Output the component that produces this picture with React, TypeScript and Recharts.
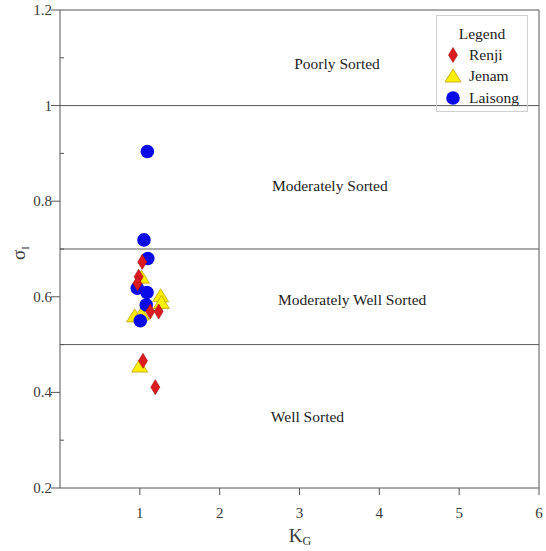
import React from 'react';
import { ScatterChart, Scatter, XAxis, YAxis, ReferenceLine, ReferenceDot } from 'recharts';

const renjiK = [1.03, 0.985, 0.97, 1.13, 1.236, 1.04, 1.194];
const renjiS = [0.673, 0.642, 0.628, 0.569, 0.569, 0.466, 0.411];
const jenamK = [1.02, 1.26, 1.27, 0.935, 1.02, 0.998];
const jenamS = [0.639, 0.6, 0.586, 0.558, 0.562, 0.453];
const laisongK = [1.094, 1.052, 1.1, 0.968, 1.09, 1.08, 1.006];
const laisongS = [0.904, 0.719, 0.68, 0.618, 0.609, 0.583, 0.55];

const xTicks = [1, 2, 3, 4, 5, 6];
const yTicks = [0.2, 0.3, 0.4, 0.5, 0.6, 0.7, 0.8, 0.9, 1.0, 1.1, 1.2];
const yLabeled = [0.2, 0.4, 0.6, 0.8, 1.0, 1.2];
const boundaries = [1.0, 0.7, 0.5];
const regions = [
  { label: 'Poorly Sorted', k: 3.47, s: 1.089 },
  { label: 'Moderately Sorted', k: 3.38, s: 0.832 },
  { label: 'Moderately Well Sorted', k: 3.66, s: 0.595 },
  { label: 'Well Sorted', k: 3.1, s: 0.35 },
];

const zip = (k: number[], s: number[]) => k.map((v, i) => ({ k: v, s: s[i] }));
const renji = zip(renjiK, renjiS);
const jenam = zip(jenamK, jenamS);
const laisong = zip(laisongK, laisongS);

const RED = '#dc1a1f';
const RED_S = '#9a1010';
const YEL = '#fff000';
const YEL_S = '#c0a000';
const BLUE = '#0a0ae6';
const AXIS = '#555';
const TXT = '#3a3a3a';
const FONT = '"Liberation Serif", "DejaVu Serif", serif';

const Diamond = (p: any) => {
  const { cx, cy } = p;
  return <polygon points={`${cx},${cy - 7.5} ${cx + 4.5},${cy} ${cx},${cy + 7.5} ${cx - 4.5},${cy}`} fill={RED} stroke={RED_S} strokeWidth={0.6} />;
};
const Triangle = (p: any) => {
  const { cx, cy } = p;
  return <polygon points={`${cx},${cy - 8} ${cx + 8},${cy + 5} ${cx - 8},${cy + 5}`} fill={YEL} stroke={YEL_S} strokeWidth={0.8} />;
};
const Circle = (p: any) => {
  const { cx, cy } = p;
  return <circle cx={cx} cy={cy} r={6.8} fill={BLUE} />;
};

const YTick = (p: any) => {
  const { x, y, payload } = p;
  const v = Math.round(payload.value * 10) / 10;
  const major = yLabeled.some((t) => Math.abs(t - v) < 1e-6);
  const ax = x + 9;
  if (!major) {
    return <line x1={ax} x2={ax + 4} y1={y} y2={y} stroke={AXIS} strokeWidth={1} />;
  }
  return (
    <g>
      <line x1={ax - 9} x2={ax} y1={y} y2={y} stroke={AXIS} strokeWidth={1} />
      <text x={ax - 8} y={y} dy={5} textAnchor="end" fontSize={15} fill={TXT} fontFamily={FONT}>{String(v)}</text>
    </g>
  );
};

const XTick = (p: any) => {
  const { x, y, payload } = p;
  return (
    <text x={x} y={y} dy={23} textAnchor="middle" fontSize={15} fill={TXT} fontFamily={FONT}>{String(payload.value)}</text>
  );
};

const legendItems = [
  { name: 'Renji', icon: 'd' },
  { name: 'Jenam', icon: 't' },
  { name: 'Laisong', icon: 'c' },
];

export default function App() {
  return (
    <div style={{ position: 'absolute', left: 0, top: 0, width: 546, height: 551, fontFamily: FONT }}>
      <ScatterChart width={546} height={551} margin={{ top: 10, right: 7, bottom: 23, left: 0 }}>
        <XAxis
          type="number"
          dataKey="k"
          domain={[0, 6]}
          ticks={xTicks}
          stroke={AXIS}
          tickSize={7}
          tickMargin={0}
          height={40}
          tick={<XTick />}
          label={() => (
            <text x={300} y={542} textAnchor="middle" fontFamily={FONT} fill={TXT} fontSize={19}>
              K<tspan fontSize={12} dy={3}>G</tspan>
            </text>
          )}
        />
        <YAxis
          type="number"
          dataKey="s"
          domain={[0.2, 1.2]}
          ticks={yTicks}
          width={60}
          stroke={AXIS}
          tickLine={false}
          tickSize={9}
          tickMargin={0}
          interval={0}
          tick={<YTick />}
          label={() => (
            <text x={25} y={253} transform="rotate(-90 25 253)" textAnchor="middle" fontFamily={FONT} fill={TXT} fontSize={19}>
              σ<tspan fontSize={11} dy={4}>I</tspan>
            </text>
          )}
        />
        <ReferenceLine y={1.2} stroke={AXIS} strokeWidth={1} />
        <ReferenceLine x={6} stroke={AXIS} strokeWidth={1} />
        {boundaries.map((b) => (
          <ReferenceLine key={b} y={b} stroke={AXIS} strokeWidth={1} />
        ))}
        {regions.map((r) => (
          <ReferenceDot key={r.label} x={r.k} y={r.s} r={0} fill="none" stroke="none"
            label={{ value: r.label, position: 'center', fontSize: 15.5, fill: '#222', fontFamily: FONT }} />
        ))}
        <Scatter name="Jenam" data={jenam} shape={Triangle} isAnimationActive={false} />
        <Scatter name="Laisong" data={laisong} shape={Circle} isAnimationActive={false} />
        <Scatter name="Renji" data={renji} shape={Diamond} isAnimationActive={false} />
      </ScatterChart>
      <div style={{ position: 'absolute', left: 436, top: 15, width: 92, height: 97, border: '1px solid #cfcfcf', boxSizing: 'border-box', color: '#222' }}>
        <div style={{ textAlign: 'center', fontSize: 15.5, marginTop: 8, lineHeight: '20px' }}>Legend</div>
        {legendItems.map((it) => (
          <div key={it.name} style={{ display: 'flex', alignItems: 'center', height: 21.5, fontSize: 15.5 }}>
            <svg width={32} height={18} style={{ flex: 'none' }}>
              {it.icon === 'd' && <Diamond cx={16} cy={9} />}
              {it.icon === 't' && <Triangle cx={16} cy={10} />}
              {it.icon === 'c' && <Circle cx={16} cy={9} />}
            </svg>
            <span>{it.name}</span>
          </div>
        ))}
      </div>
    </div>
  );
}
